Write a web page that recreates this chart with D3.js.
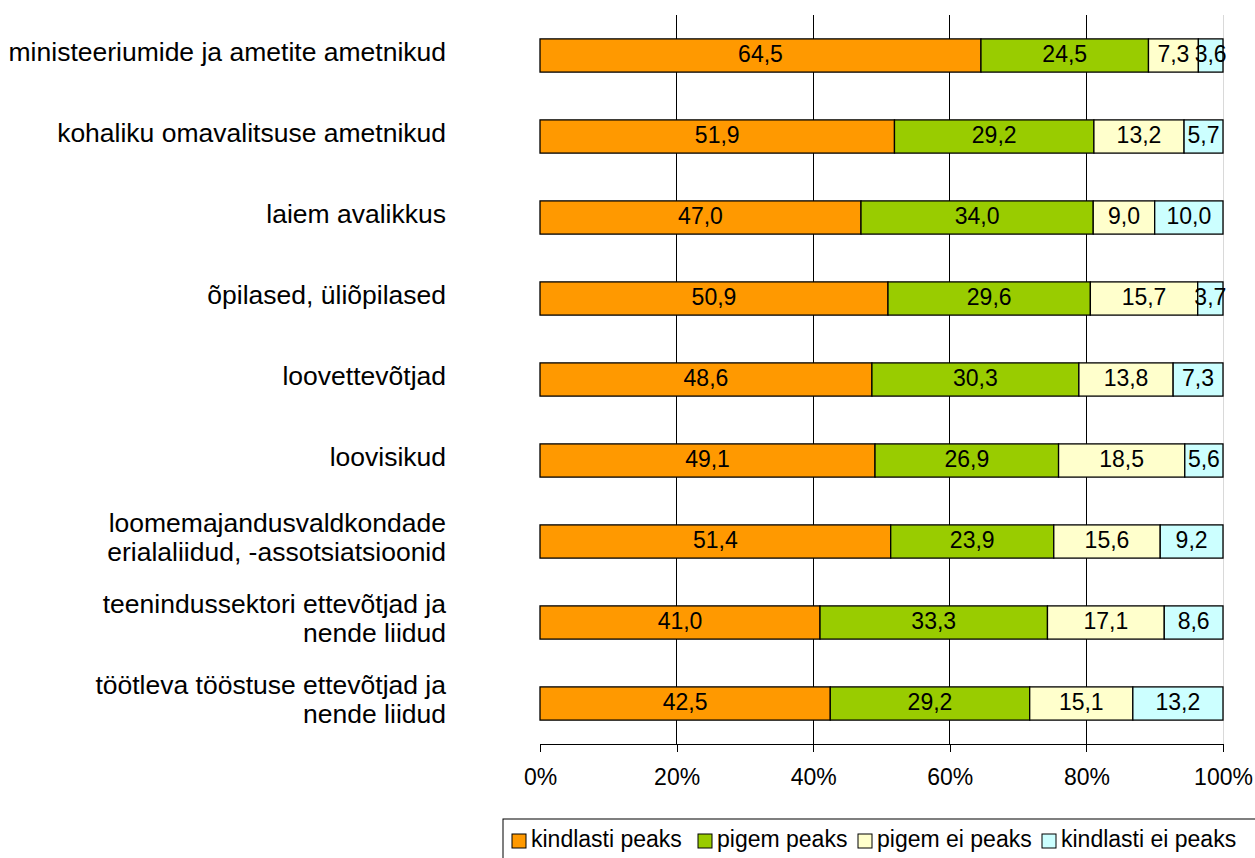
<!DOCTYPE html>
<html>
<head>
<meta charset="utf-8">
<script src="https://cdn.jsdelivr.net/npm/d3@7"></script>
<style>
  body { margin: 0; background: #fff; }
  text { font-family: "Liberation Sans", Arial, sans-serif; }
</style>
</head>
<body>
<svg id="chart" width="1255" height="858"></svg>
<script>
// categories, top to bottom
var categories = [
    ["ministeeriumide ja ametite ametnikud"],
    ["kohaliku omavalitsuse ametnikud"],
    ["laiem avalikkus"],
    ["õpilased, üliõpilased"],
    ["loovettevõtjad"],
    ["loovisikud"],
    ["loomemajandusvaldkondade", "erialaliidud, -assotsiatsioonid"],
    ["teenindussektori ettevõtjad ja", "nende liidud"],
    ["töötleva tööstuse ettevõtjad ja", "nende liidud"]
];

var seriesNames = ["kindlasti peaks", "pigem peaks", "pigem ei peaks", "kindlasti ei peaks"];
var seriesColors = ["#FF9900", "#99CC00", "#FFFFCC", "#CCFFFF"];

// values per series, same order as categories
var kindlastiPeaks = [64.5, 51.9, 47.0, 50.9, 48.6, 49.1, 51.4, 41.0, 42.5];
var pigemPeaks     = [24.5, 29.2, 34.0, 29.6, 30.3, 26.9, 23.9, 33.3, 29.2];
var pigemEiPeaks   = [7.3, 13.2, 9.0, 15.7, 13.8, 18.5, 15.6, 17.1, 15.1];
var kindlastiEi    = [3.6, 5.7, 10.0, 3.7, 7.3, 5.6, 9.2, 8.6, 13.2];

var xTicks = [0, 0.2, 0.4, 0.6, 0.8, 1];
var xTickLabels = ["0%", "20%", "40%", "60%", "80%", "100%"];

var svg = d3.select("#chart");

// plot area
var plotLeft = 540, plotRight = 1223, plotTop = 15, plotBottom = 744;
var fontSize = 23, catFontSize = 26.5;

// build rows
var rows = categories.map(function (c, i) {
    var vals = [kindlastiPeaks[i], pigemPeaks[i], pigemEiPeaks[i], kindlastiEi[i]];
    var total = d3.sum(vals);
    var acc = 0;
    var segs = vals.map(function (v, k) {
        var s = { v: v, k: k, x0: acc / total, x1: (acc + v) / total };
        acc += v;
        return s;
    });
    return { i: i, label: c, segs: segs };
});

var x = d3.scaleLinear().domain([0, 1]).range([plotLeft, plotRight]);
var y = d3.scaleBand()
    .domain(d3.range(categories.length))
    .range([plotTop, plotBottom])
    .paddingInner(0.59)
    .paddingOuter(0.295);

// gridlines
svg.selectAll(".grid")
    .data(xTicks.slice(1))
    .enter().append("line")
    .attr("class", "grid")
    .attr("x1", function (d) { return x(d); })
    .attr("x2", function (d) { return x(d); })
    .attr("y1", plotTop)
    .attr("y2", plotBottom)
    .attr("stroke", function (d) { return d === 1 ? "#d9d9d9" : "#000"; })
    .attr("stroke-width", 1)
    .attr("shape-rendering", "crispEdges");

// x axis
var xAxis = d3.axisBottom(x)
    .tickValues(xTicks)
    .tickFormat(function (d, i) { return xTickLabels[i]; })
    .tickSize(8)
    .tickSizeOuter(0)
    .tickPadding(17);

var gx = svg.append("g")
    .attr("transform", "translate(0," + plotBottom + ")")
    .call(xAxis);
gx.selectAll("path, line").attr("stroke", "#000").attr("shape-rendering", "crispEdges");
gx.selectAll("text")
    .attr("font-size", fontSize)
    .attr("fill", "#000")
    .style("font-family", "'Liberation Sans', Arial, sans-serif");

// bars
var row = svg.selectAll(".row")
    .data(rows)
    .enter().append("g")
    .attr("class", "row")
    .attr("transform", function (d) { return "translate(0," + y(d.i) + ")"; });

row.selectAll("rect")
    .data(function (d) { return d.segs; })
    .enter().append("rect")
    .attr("x", function (d) { return x(d.x0); })
    .attr("width", function (d) { return x(d.x1) - x(d.x0); })
    .attr("y", 0)
    .attr("height", y.bandwidth())
    .attr("fill", function (d) { return seriesColors[d.k]; })
    .attr("stroke", "#000")
    .attr("stroke-width", 1.3);

row.selectAll(".val")
    .data(function (d) { return d.segs; })
    .enter().append("text")
    .attr("class", "val")
    .attr("x", function (d) { return (x(d.x0) + x(d.x1)) / 2; })
    .attr("y", y.bandwidth() / 2)
    .attr("dy", "0.3em")
    .attr("text-anchor", "middle")
    .attr("font-size", fontSize)
    .text(function (d) { return d.v.toFixed(1).replace(".", ","); });

// category labels
var lineH = 29;
var labelG = svg.selectAll(".cat")
    .data(rows)
    .enter().append("text")
    .attr("class", "cat")
    .attr("text-anchor", "end")
    .attr("font-size", catFontSize)
    .attr("transform", function (d) {
        var cy = y(d.i) + y.bandwidth() / 2;
        var n = d.label.length;
        return "translate(446," + (cy + 5 - (n - 1) * 15) + ")";
    });

labelG.selectAll("tspan")
    .data(function (d) { return d.label; })
    .enter().append("tspan")
    .attr("x", 0)
    .attr("dy", function (d, i) { return i === 0 ? 0 : lineH; })
    .text(function (d) { return d; });

// legend
var legend = svg.append("g").attr("transform", "translate(503,819)");
legend.append("rect")
    .attr("x", 0).attr("y", 0)
    .attr("width", 760).attr("height", 45)
    .attr("fill", "#fff").attr("stroke", "#000").attr("stroke-width", 1);

var legX = [9, 195, 355, 539];
var item = legend.selectAll(".leg")
    .data(seriesNames)
    .enter().append("g")
    .attr("class", "leg")
    .attr("transform", function (d, i) { return "translate(" + legX[i] + ",0)"; });

item.append("rect")
    .attr("x", 0).attr("y", 15)
    .attr("width", 14).attr("height", 14)
    .attr("fill", function (d, i) { return seriesColors[i]; })
    .attr("stroke", "#000");

item.append("text")
    .attr("x", 19).attr("y", 28)
    .attr("font-size", fontSize)
    .text(function (d) { return d; });
</script>
</body>
</html>
